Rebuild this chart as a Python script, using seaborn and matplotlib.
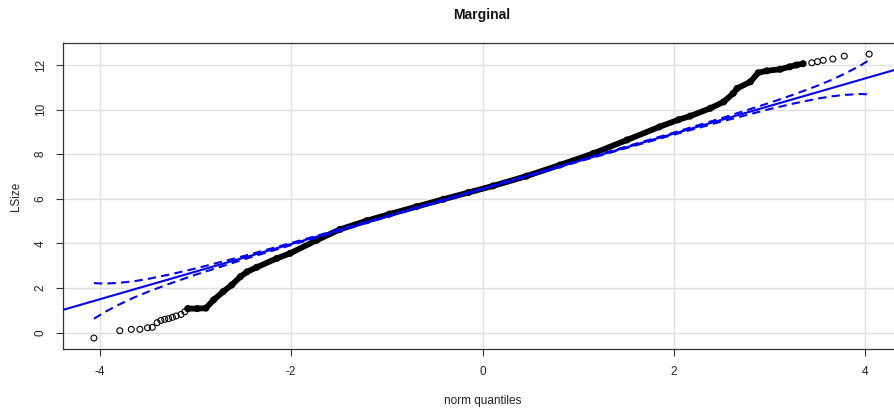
import matplotlib
matplotlib.use("Agg")
import matplotlib.pyplot as plt
import seaborn as sns
import pandas as pd

# Normal quantile plot of LSize with a robust reference line and 95% envelope

# Lower tail: individually visible observations (theoretical quantile, LSize)
tail_lo_q = [-4.06, -3.79, -3.67, -3.58, -3.50, -3.45, -3.40, -3.36, -3.32, -3.28,
             -3.24, -3.20, -3.15, -3.11]
tail_lo_v = [-0.24, 0.09, 0.15, 0.15, 0.22, 0.24, 0.45, 0.55, 0.60, 0.63,
             0.69, 0.75, 0.82, 0.94]

# Dense body of the sample (overlapping points)
body_q = [-3.08, -2.98, -2.89, -2.81, -2.71, -2.62, -2.53, -2.46, -2.36, -2.15,
          -2.01, -1.73, -1.49, -1.21, -0.97, -0.69, -0.41, -0.15, 0.11, 0.46,
          0.81, 1.16, 1.51, 1.85, 2.05, 2.17, 2.38, 2.52, 2.62, 2.66,
          2.80, 2.88, 2.97, 3.11, 3.21, 3.28, 3.35]
body_v = [1.08, 1.08, 1.10, 1.47, 1.84, 2.14, 2.51, 2.73, 2.93, 3.33,
          3.56, 4.15, 4.63, 5.02, 5.32, 5.65, 5.98, 6.28, 6.58, 7.02,
          7.52, 8.04, 8.64, 9.23, 9.55, 9.71, 10.06, 10.35, 10.73, 10.95,
          11.25, 11.65, 11.74, 11.81, 11.92, 12.00, 12.06]

# Upper tail
tail_hi_q = [3.44, 3.50, 3.56, 3.66, 3.78, 4.04]
tail_hi_v = [12.10, 12.15, 12.21, 12.27, 12.40, 12.49]

# Reference line (quartile based)
line_intercept = 6.45
line_slope = 1.238

# Pointwise 95% confidence envelope half-widths
env_q = [-4.06, -3.95, -3.80, -3.65, -3.50, -3.25, -3.00, -2.50, -2.00, -1.00, 0.00,
         1.00, 2.00, 2.50, 3.00, 3.25, 3.50, 3.65, 3.80, 3.95, 4.06]
env_half = [0.80, 0.64, 0.49, 0.37, 0.29, 0.20, 0.14, 0.075, 0.046, 0.025, 0.021,
            0.025, 0.046, 0.075, 0.14, 0.20, 0.29, 0.37, 0.49, 0.64, 0.80]

x_ticks = [-4, -2, 0, 2, 4]
y_ticks = [0, 2, 4, 6, 8, 10, 12]

sns.set_style("white")
plt.rcParams["font.family"] = ["Liberation Sans", "DejaVu Sans"]

fig = plt.figure(figsize=(8.95, 4.09), dpi=100)
ax = fig.add_axes([63.3 / 895, (409 - 349.3) / 409, (901.7 - 63.3) / 895, (349.3 - 42.7) / 409])

# grid
for xt in x_ticks:
    ax.axvline(xt, color="#E0E0E0", lw=1.0, zorder=0)
for yt in y_ticks:
    ax.axhline(yt, color="#E0E0E0", lw=1.0, zorder=0)

pts = pd.DataFrame({
    "q": tail_lo_q + body_q + tail_hi_q,
    "v": tail_lo_v + body_v + tail_hi_v,
})
body = pd.DataFrame({"q": body_q, "v": body_v})

# dense band of overlapping observations
sns.lineplot(data=body, x="q", y="v", sort=False, color="black", lw=4.2,
             solid_capstyle="round", solid_joinstyle="round", ax=ax, zorder=2)
# individual observations as open circles
sns.scatterplot(data=pts, x="q", y="v", marker="o", s=18, facecolor="none",
                edgecolor="black", linewidth=0.8, ax=ax, zorder=3)

# reference line
ax.axline((0, line_intercept), slope=line_slope, color="#0000FF", lw=1.5, zorder=4)

# envelope
env = pd.DataFrame({"q": env_q, "h": env_half})
env["fit"] = line_intercept + line_slope * env["q"]
env["upper"] = env["fit"] + env["h"]
env["lower"] = env["fit"] - env["h"]
for col in ["upper", "lower"]:
    sns.lineplot(data=env, x="q", y=col, sort=False, color="#0000FF", lw=1.5,
                 dashes=False, ax=ax, zorder=4).lines[-1].set_dashes([4, 2.5])

ax.set_xlim(-4.38, 4.38)
ax.set_ylim(-0.744, 13.0)
ax.set_xticks(x_ticks)
ax.set_yticks(y_ticks)
ax.set_xticklabels([str(t) for t in x_ticks], fontsize=8.5, color="#222222")
ax.set_yticklabels([str(t) for t in y_ticks], fontsize=8.5, color="#222222",
                   rotation=90, va="center")
ax.tick_params(axis="both", direction="out", length=5, width=0.8, color="#333333",
               bottom=True, left=True, pad=7)
for sp in ["left", "bottom", "top", "right"]:
    ax.spines[sp].set_color("#333333")
    ax.spines[sp].set_linewidth(0.9)

ax.set_xlabel("norm quantiles", fontsize=8.5, color="#222222", labelpad=12)
ax.set_ylabel("LSize", fontsize=8.5, color="#222222", labelpad=9)
fig.text(482 / 895, 1 - 15 / 409, "Marginal", ha="center", va="center",
         fontsize=10, fontweight="bold", color="#111111")

fig.savefig("out.png", dpi=100)
